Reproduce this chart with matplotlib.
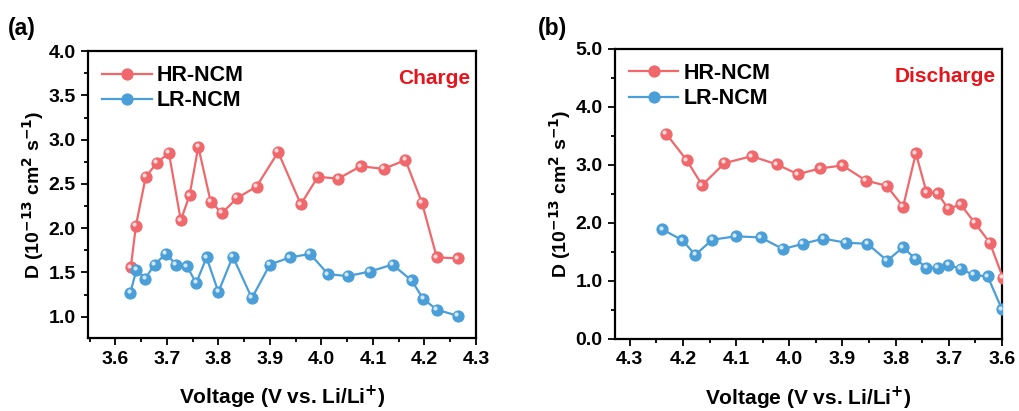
import numpy as np
import matplotlib
matplotlib.use("Agg")
import matplotlib.pyplot as plt
from matplotlib.ticker import MultipleLocator, FormatStrFormatter
from matplotlib.transforms import ScaledTranslation

plt.rcParams['font.family'] = ['Liberation Sans', 'DejaVu Sans']
plt.rcParams['font.weight'] = 'bold'
plt.rcParams['mathtext.default'] = 'bf'

# (a) charge
chg_hr_v = [3.630, 3.640, 3.659, 3.681, 3.704, 3.727, 3.744, 3.761, 3.785, 3.807, 3.836,
            3.874, 3.916, 3.960, 3.993, 4.033, 4.076, 4.121, 4.163, 4.195, 4.224, 4.265]
chg_hr_d = [1.56, 2.03, 2.58, 2.74, 2.85, 2.09, 2.37, 2.92, 2.30, 2.17, 2.34,
            2.47, 2.86, 2.27, 2.58, 2.56, 2.70, 2.67, 2.77, 2.29, 1.67, 1.66]
chg_lr_v = [3.629, 3.641, 3.658, 3.676, 3.698, 3.718, 3.739, 3.757, 3.777, 3.800, 3.828,
            3.865, 3.900, 3.939, 3.978, 4.013, 4.051, 4.094, 4.138, 4.175, 4.198, 4.224, 4.265]
chg_lr_d = [1.27, 1.53, 1.43, 1.59, 1.71, 1.59, 1.57, 1.38, 1.67, 1.28, 1.68,
            1.21, 1.59, 1.67, 1.71, 1.48, 1.46, 1.51, 1.59, 1.41, 1.20, 1.08, 1.01]

# (b) discharge
dis_hr_v = [4.232, 4.193, 4.164, 4.122, 4.071, 4.024, 3.984, 3.942, 3.900, 3.856,
            3.817, 3.786, 3.762, 3.742, 3.721, 3.701, 3.678, 3.651, 3.623, 3.598]
dis_hr_d = [3.54, 3.08, 2.65, 3.03, 3.15, 3.01, 2.84, 2.94, 2.99, 2.73,
            2.64, 2.28, 3.20, 2.53, 2.51, 2.24, 2.32, 2.00, 1.66, 1.05]
dis_lr_v = [4.239, 4.201, 4.177, 4.145, 4.101, 4.054, 4.012, 3.974, 3.936, 3.894, 3.853,
            3.816, 3.786, 3.763, 3.742, 3.721, 3.701, 3.678, 3.653, 3.627, 3.600]
dis_lr_d = [1.89, 1.70, 1.45, 1.71, 1.77, 1.75, 1.55, 1.64, 1.73, 1.66, 1.64,
            1.35, 1.58, 1.38, 1.23, 1.23, 1.28, 1.21, 1.10, 1.08, 0.51]

RED = '#F0686B'
BLUE = '#4A9FD9'

fig = plt.figure(figsize=(10.19, 4.11), dpi=100)
ax1 = fig.add_axes([0.0864, 0.1776, 0.3807, 0.698])
ax2 = fig.add_axes([0.6035, 0.1752, 0.3798, 0.706])


def curve(ax, x, y, col, label):
    ax.plot(x, y, '-o', color=col, lw=1.6, ms=8, mfc=col, mec=col, mew=0.8,
            label=label, zorder=3)
    # little highlight to fake the shaded balls
    off = ScaledTranslation(-1.2 / 72, 1.2 / 72, fig.dpi_scale_trans)
    ax.plot(x, y, 'o', ms=3, color='white', alpha=0.75, mec='none',
            transform=ax.transData + off, zorder=4)


def style_ax(ax):
    for s in ax.spines.values():
        s.set_linewidth(1.6)
    ax.tick_params(which='both', direction='out', width=1.3, top=False, right=False,
                   labelsize=14)
    ax.tick_params(which='major', length=5, pad=4)
    ax.tick_params(which='minor', length=3)
    ax.xaxis.set_major_formatter(FormatStrFormatter('%.1f'))
    ax.yaxis.set_major_formatter(FormatStrFormatter('%.1f'))
    ax.set_xlabel('Voltage (V vs. Li/Li$^{+}$)', fontsize=15, fontweight='bold', labelpad=12)
    ax.set_ylabel('D (10$^{-13}$ cm$^{2}$ s$^{-1}$)', fontsize=14, fontweight='bold', labelpad=2)
    ax.legend(loc='upper left', frameon=False, fontsize=15.5, handlelength=2.3,
              handletextpad=0.25, borderaxespad=0.25, labelspacing=0.2,
              bbox_to_anchor=(0.0, 1.0))


curve(ax1, chg_hr_v, chg_hr_d, RED, 'HR-NCM')
curve(ax1, chg_lr_v, chg_lr_d, BLUE, 'LR-NCM')
ax1.set_xlim(3.547, 4.3)
ax1.set_ylim(0.76, 4.0)
ax1.set_xticks(np.arange(3.6, 4.31, 0.1))
ax1.xaxis.set_minor_locator(MultipleLocator(0.05))
ax1.set_yticks(np.arange(1.0, 4.01, 0.5))
ax1.yaxis.set_minor_locator(MultipleLocator(0.25))
style_ax(ax1)
ax1.text(0.985, 0.905, 'Charge', color='#E8141B', fontsize=15, fontweight='bold',
         transform=ax1.transAxes, ha='right', va='center')

curve(ax2, dis_hr_v, dis_hr_d, RED, 'HR-NCM')
curve(ax2, dis_lr_v, dis_lr_d, BLUE, 'LR-NCM')
ax2.set_xlim(4.328, 3.6)
ax2.set_ylim(0.0, 5.0)
ax2.set_xticks(np.arange(3.6, 4.31, 0.1))
ax2.xaxis.set_minor_locator(MultipleLocator(0.05))
ax2.set_yticks(np.arange(0.0, 5.01, 1.0))
ax2.yaxis.set_minor_locator(MultipleLocator(0.5))
style_ax(ax2)
ax2.text(0.985, 0.905, 'Discharge', color='#E8141B', fontsize=15, fontweight='bold',
         transform=ax2.transAxes, ha='right', va='center')

fig.text(0.008, 0.915, '(a)', fontsize=16.5, fontweight='bold')
fig.text(0.528, 0.915, '(b)', fontsize=16.5, fontweight='bold')

fig.savefig('out.png', dpi=100)
